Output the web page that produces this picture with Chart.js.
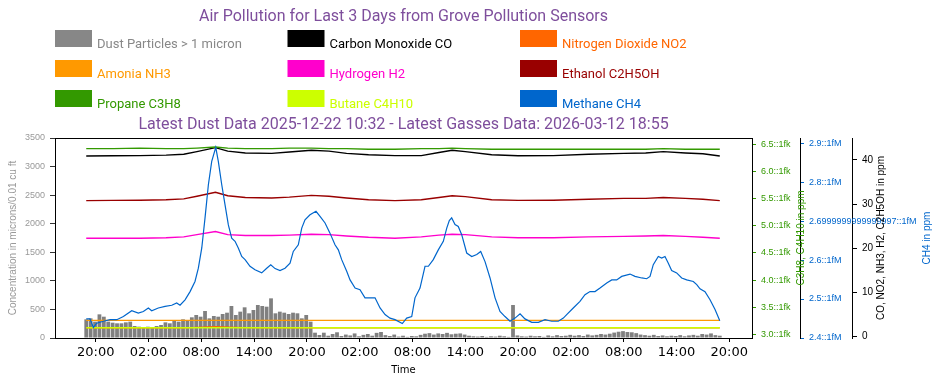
<!DOCTYPE html>
<html>
<head>
  <title>Air Pollution for Last 3 Days</title>
  <script src="https://cdn.jsdelivr.net/npm/chart.js"></script>
  <style>
    body { margin: 0; background: #fff; }
    #wrap { width: 942px; height: 385px; }
  </style>
</head>
<body>
  <div id="wrap"><canvas id="airChart" width="942" height="385"></canvas></div>

  <script>
    // hours are counted from the first 20:00 tick (data starts 18:55, ends 18:55 three days later)
    const dustStart = -1.08;
    const dustStep = 0.5;
    const dustValues = [
      327, 344, 286, 414, 373, 286, 268, 257, 257, 274,
      286, 210, 198, 187, 198, 187, 210, 228, 274, 257,
      298, 286, 327, 315, 362, 403, 373, 473, 344, 385,
      373, 420, 443, 560, 403, 461, 537, 432, 490, 578,
      560, 548, 694, 432, 461, 443, 420, 443, 432, 344,
      403, 286, 93, 53, 93, 40, 70, 100, 35, 60,
      45, 80, 30, 55, 70, 40, 90, 105, 50, 35,
      60, 25, 40, 20, 35, 30, 55, 75, 85, 60,
      80, 70, 90, 65, 75, 80, 60, 40, 30, 25,
      35, 20, 30, 25, 40, 30, 20, 578, 45, 30,
      25, 40, 30, 35, 20, 45, 30, 50, 35, 40,
      55, 40, 50, 35, 60, 45, 55, 70, 60, 75,
      95, 110, 120, 105, 100, 85, 60, 50, 40, 55,
      35, 45, 30, 40, 35, 50, 30, 45, 55, 40,
      70, 60, 80, 50, 40
    ];

    const methaneHours = [
      -1.08, -0.65, -0.27, 0.11, 0.86, 1.63, 2.39, 3.14, 4.09, 4.84,
      5.41, 5.98, 6.36, 7.11, 7.88, 8.64, 9.20, 9.58, 10.15, 10.72,
      11.28, 11.66, 12.05, 12.42, 12.80, 13.18, 13.64, 13.93, 14.32, 14.69,
      15.07, 15.45, 15.83, 16.20, 16.59, 16.97, 17.53, 18.10, 18.86, 19.43,
      19.89, 20.38, 20.94, 21.51, 22.08, 22.45, 23.02, 23.41, 23.78, 24.35,
      25.03, 25.49, 26.06, 26.62, 27.19, 27.57, 27.95, 28.52, 28.90, 29.47,
      30.03, 30.60, 31.17, 31.74, 32.31, 32.88, 33.44, 34.01, 34.84, 35.34,
      35.91, 36.28, 36.85, 37.42, 37.80, 38.36, 38.93, 39.50, 39.89, 40.18,
      40.45, 40.83, 41.20, 41.59, 42.16, 42.73, 43.30, 43.75, 44.24, 44.81,
      45.38, 45.94, 46.51, 47.08, 47.65, 48.22, 48.78, 49.55, 50.30, 51.06,
      51.82, 52.57, 53.14, 53.52, 54.27, 55.03, 55.60, 56.17, 56.74, 57.31,
      58.07, 58.64, 59.20, 59.77, 60.72, 61.28, 62.05, 62.61, 62.99, 63.36,
      63.93, 64.32, 64.69, 65.07, 65.45, 66.02, 66.59, 67.16, 67.91, 68.30,
      68.67, 69.24, 69.81, 70.38, 70.92
    ];
    const methaneValues = [
      2.449, 2.449, 2.427, 2.438, 2.443, 2.447, 2.447, 2.455, 2.470, 2.464,
      2.468, 2.477, 2.470, 2.477, 2.481, 2.484, 2.490, 2.484, 2.498, 2.519,
      2.545, 2.579, 2.631, 2.708, 2.793, 2.853, 2.889, 2.853, 2.793, 2.742,
      2.690, 2.656, 2.648, 2.631, 2.609, 2.601, 2.584, 2.575, 2.567, 2.579,
      2.588, 2.578, 2.573, 2.579, 2.592, 2.622, 2.639, 2.682, 2.703, 2.716,
      2.725, 2.712, 2.695, 2.669, 2.639, 2.626, 2.601, 2.571, 2.549, 2.528,
      2.524, 2.503, 2.503, 2.503, 2.477, 2.460, 2.451, 2.447, 2.437, 2.451,
      2.455, 2.503, 2.528, 2.584, 2.584, 2.601, 2.626, 2.648, 2.682, 2.701,
      2.708, 2.691, 2.686, 2.665, 2.618, 2.609, 2.614, 2.622, 2.596, 2.554,
      2.503, 2.468, 2.455, 2.443, 2.451, 2.462, 2.449, 2.440, 2.440, 2.447,
      2.443, 2.443, 2.451, 2.460, 2.477, 2.494, 2.511, 2.519, 2.519, 2.528,
      2.541, 2.549, 2.549, 2.558, 2.564, 2.558, 2.554, 2.552, 2.558, 2.588,
      2.609, 2.605, 2.609, 2.592, 2.573, 2.567, 2.554, 2.549, 2.545, 2.537,
      2.526, 2.519, 2.498, 2.473, 2.444
    ];

    const gasHours = [-1.08, 2, 5, 8, 10, 11.5, 13.6, 15, 17, 20, 22, 24.5, 26.5, 28.5, 31,
                      34, 37, 39, 40.5, 42, 45, 48, 52, 56, 60, 62.5, 64.5, 67, 69, 70.92];
    const coValues = [40.9, 40.95, 41.0, 41.1, 41.3, 41.9, 42.8, 42.0, 41.6, 41.5, 41.8, 42.2, 42.0, 41.5, 41.2,
                      41.0, 41.0, 41.7, 42.2, 41.9, 41.2, 40.95, 41.0, 41.3, 41.5, 41.6, 41.9, 41.6, 41.4, 40.9];
    const no2Values = [2.0, 2.0, 2.0, 2.0, 2.0, 2.1, 2.25, 2.15, 2.05, 2.0, 2.0, 2.0, 2.0, 2.0, 2.0,
                       2.0, 2.0, 2.0, 2.0, 2.0, 2.0, 2.0, 2.0, 2.0, 2.0, 2.0, 2.0, 2.0, 2.0, 2.0];
    const nh3Values = [3.7, 3.7, 3.7, 3.7, 3.7, 3.7, 3.7, 3.7, 3.7, 3.7, 3.7, 3.7, 3.7, 3.7, 3.7,
                       3.7, 3.7, 3.7, 3.7, 3.7, 3.7, 3.7, 3.7, 3.7, 3.7, 3.7, 3.7, 3.7, 3.7, 3.7];
    const h2Values = [22.3, 22.3, 22.3, 22.4, 22.6, 23.1, 23.8, 23.1, 22.9, 22.9, 23.0, 23.2, 23.1, 22.8, 22.5,
                      22.3, 22.6, 23.0, 23.2, 23.1, 22.6, 22.4, 22.4, 22.6, 22.7, 22.8, 22.9, 22.7, 22.5, 22.3];
    const ethanolValues = [30.8, 30.85, 30.9, 31.0, 31.2, 31.8, 32.7, 31.9, 31.5, 31.4, 31.6, 32.0, 31.8, 31.4, 31.0,
                           30.8, 31.0, 31.5, 31.9, 31.7, 31.0, 30.85, 30.9, 31.1, 31.3, 31.3, 31.5, 31.3, 31.1, 30.8];
    const propaneValues = [6.42, 6.42, 6.43, 6.42, 6.42, 6.43, 6.45, 6.43, 6.42, 6.42, 6.43, 6.43, 6.42, 6.42, 6.41,
                           6.41, 6.42, 6.42, 6.43, 6.42, 6.41, 6.41, 6.41, 6.41, 6.41, 6.41, 6.42, 6.41, 6.41, 6.41];
    const butaneValues = [3.12, 3.12, 3.12, 3.12, 3.12, 3.12, 3.12, 3.12, 3.12, 3.12, 3.12, 3.12, 3.12, 3.12, 3.12,
                          3.12, 3.12, 3.12, 3.12, 3.12, 3.12, 3.12, 3.12, 3.12, 3.12, 3.12, 3.12, 3.12, 3.12, 3.12];

    const timeTicks = [0, 6, 12, 18, 24, 30, 36, 42, 48, 54, 60, 66, 72];
    const timeTickLabels = ['20:00', '02:00', '08:00', '14:00', '20:00', '02:00', '08:00',
                            '14:00', '20:00', '02:00', '08:00', '14:00', '20:00'];
    const dustTicks = [0, 500, 1000, 1500, 2000, 2500, 3000, 3500];
    const ppmTicks = [0, 10, 20, 30, 40];
    const c3Ticks = [3.0, 3.5, 4.0, 4.5, 5.0, 5.5, 6.0, 6.5];
    const c3TickLabels = ['3.0::1fk', '3.5::1fk', '4.0::1fk', '4.5::1fk', '5.0::1fk', '5.5::1fk', '6.0::1fk', '6.5::1fk'];
    const ch4Ticks = [2.4, 2.5, 2.6, 2.7, 2.8, 2.9];
    const ch4TickLabels = ['2.4::1fM', '2.5::1fM', '2.6::1fM', '2.6999999999999997::1fM', '2.8::1fM', '2.9::1fM'];

    const legendLabels = ['Dust Particles > 1 micron', 'Carbon Monoxide CO', 'Nitrogen Dioxide NO2',
                          'Amonia NH3', 'Hydrogen H2', 'Ethanol C2H5OH',
                          'Propane C3H8', 'Butane C4H10', 'Methane CH4'];
    const legendColors = ['#878787', '#000000', '#ff6600', '#ff9900', '#ff00cc', '#990000', '#339900', '#ccff00', '#0066cc'];
    const legendTextColors = ['#888888', '#000000', '#ff6600', '#ff9900', '#ff00cc', '#990000', '#339900', '#ccff00', '#0066cc'];

    const purple = '#7e4e9c';
    const headFont = "Roboto, 'Noto Sans', sans-serif";
    const sans = "'Liberation Sans', Arial, sans-serif";

    const pairs = (xs, ys) => ys.map((y, i) => ({ x: xs[i], y: y }));
    const gasLine = (label, values, color, axis, order) => ({
      type: 'line', label, data: pairs(gasHours, values), yAxisID: axis,
      borderColor: color, borderWidth: 1.4, pointRadius: 0, tension: 0, order
    });

    const fixedTicks = (values) => (scale) => { scale.ticks = values.map(v => ({ value: v })); };

    const decorations = {
      id: 'decorations',
      afterDraw(chart) {
        const { ctx, chartArea: a } = chart;
        ctx.save();
        ctx.strokeStyle = '#000';
        ctx.lineWidth = 1;
        ctx.strokeRect(a.left + 0.5, a.top + 0.5, a.right - a.left, a.bottom - a.top);

        // legend, three columns
        ctx.textAlign = 'left';
        ctx.textBaseline = 'middle';
        ctx.font = '13px ' + headFont;
        legendLabels.forEach((label, i) => {
          const bx = a.left + (i % 3) * 232.5;
          const by = 30 + Math.floor(i / 3) * 30;
          ctx.fillStyle = legendColors[i];
          ctx.fillRect(bx, by, 37, 17);
          ctx.fillStyle = legendTextColors[i];
          ctx.fillText(label, bx + 42, by + 14.5);
        });

        // CH4 tick labels run over the next axis, so they are drawn here without clipping
        const ch4 = chart.scales.yCH4;
        ctx.font = '9px ' + sans;
        ctx.fillStyle = '#0066cc';
        ch4Ticks.forEach((v, i) => {
          ctx.fillText(ch4TickLabels[i], ch4.left + 9, ch4.getPixelForValue(v));
        });

        // axis titles
        const mid = (a.top + a.bottom) / 2;
        const vText = (text, x, color) => {
          ctx.save();
          ctx.translate(x, mid);
          ctx.rotate(-Math.PI / 2);
          ctx.textAlign = 'center';
          ctx.fillStyle = color;
          ctx.fillText(text, 0, 0);
          ctx.restore();
        };
        ctx.font = '10px ' + sans;
        vText('Concentration in microns/0.01 cu ft', 13, '#999999');
        vText('C3H8, C4H10 in ppm', chart.scales.yC3.right + 1, '#339900');
        vText('CO, NO2, NH3, H2, C2H5OH in ppm', chart.scales.yPpm.left + 29, '#000000');
        vText('CH4 in ppm', chart.scales.yPpm.left + 75, '#0066cc');

        ctx.textAlign = 'center';
        ctx.fillStyle = '#000';
        ctx.font = '10px "DejaVu Sans"';
        ctx.fillText('Time', (a.left + a.right) / 2, 370);
        ctx.restore();
      }
    };

    new Chart(document.getElementById('airChart'), {
      type: 'bar',
      data: {
        datasets: [
          {
            type: 'bar', label: 'Dust Particles > 1 micron',
            data: dustValues.map((y, i) => ({ x: dustStart + i * dustStep, y: y })),
            yAxisID: 'yDust', backgroundColor: '#808080',
            barPercentage: 1, categoryPercentage: 0.86, order: 10
          },
          gasLine('Carbon Monoxide CO', coValues, '#000000', 'yPpm', 3),
          gasLine('Nitrogen Dioxide NO2', no2Values, '#ff6600', 'yPpm', 6),
          gasLine('Amonia NH3', nh3Values, '#ff9900', 'yPpm', 4),
          gasLine('Hydrogen H2', h2Values, '#ff00cc', 'yPpm', 3),
          gasLine('Ethanol C2H5OH', ethanolValues, '#990000', 'yPpm', 3),
          gasLine('Propane C3H8', propaneValues, '#339900', 'yC3', 2),
          gasLine('Butane C4H10', butaneValues, '#ccff00', 'yC3', 5),
          {
            type: 'line', label: 'Methane CH4', data: pairs(methaneHours, methaneValues), yAxisID: 'yCH4',
            borderColor: '#0066cc', borderWidth: 1.2, pointRadius: 0, tension: 0, order: 1
          }
        ]
      },
      options: {
        responsive: false,
        animation: false,
        devicePixelRatio: 1,
        layout: { padding: 0 },
        plugins: {
          legend: { display: false },
          tooltip: { enabled: false },
          title: {
            display: true, fullSize: false, color: purple,
            text: 'Air Pollution for Last 3 Days from Grove Pollution Sensors',
            font: { family: headFont, size: 16, weight: 'normal' },
            padding: { top: 7, bottom: 89 }
          },
          subtitle: {
            display: true, fullSize: false, color: purple,
            text: 'Latest Dust Data 2025-12-22 10:32 - Latest Gasses Data: 2026-03-12 18:55',
            font: { family: headFont, size: 16, weight: 'normal' },
            padding: { top: 0, bottom: 3.6 }
          }
        },
        scales: {
          x: {
            type: 'linear', min: -4.63, max: 74.58, offset: false,
            afterBuildTicks: fixedTicks(timeTicks),
            afterFit: (s) => { s.height = 47; },
            ticks: {
              callback: (v, i) => timeTickLabels[i], color: '#000', autoSkip: false, maxRotation: 0,
              font: { family: 'DejaVu Sans', size: 13 }, padding: 3
            },
            grid: { drawOnChartArea: false, offset: false, tickLength: 4, tickColor: '#000' },
            border: { color: '#000' }
          },
          yDust: {
            position: 'left', min: 0, max: 3500,
            afterBuildTicks: fixedTicks(dustTicks),
            afterFit: (s) => { s.width = 55; },
            ticks: { callback: (v) => String(v), color: '#999999', font: { family: sans, size: 9 }, padding: 5 },
            grid: { drawOnChartArea: false, tickLength: 5, tickColor: '#333' },
            border: { color: '#000' }
          },
          yC3: {
            position: 'right', min: 2.932, max: 6.616,
            afterBuildTicks: fixedTicks(c3Ticks),
            afterFit: (s) => { s.width = 48; },
            ticks: { callback: (v, i) => c3TickLabels[i], color: '#339900', font: { family: sans, size: 9 }, padding: 5 },
            grid: { drawOnChartArea: false, tickLength: 4, tickColor: '#339900' },
            border: { color: '#000' }
          },
          yCH4: {
            position: 'right', min: 2.4, max: 2.913,
            afterBuildTicks: fixedTicks(ch4Ticks),
            afterFit: (s) => { s.width = 52; },
            ticks: { display: false },
            grid: { drawOnChartArea: false, tickLength: 4, tickColor: '#0066cc' },
            border: { color: '#000' }
          },
          yPpm: {
            position: 'right', min: -0.3, max: 44.98,
            afterBuildTicks: fixedTicks(ppmTicks),
            afterFit: (s) => { s.width = 90; },
            ticks: { color: '#000', font: { family: sans, size: 10 }, padding: 5 },
            grid: { drawOnChartArea: false, tickLength: 5, tickColor: '#000' },
            border: { color: '#000' }
          }
        }
      },
      plugins: [decorations]
    });
  </script>
</body>
</html>
